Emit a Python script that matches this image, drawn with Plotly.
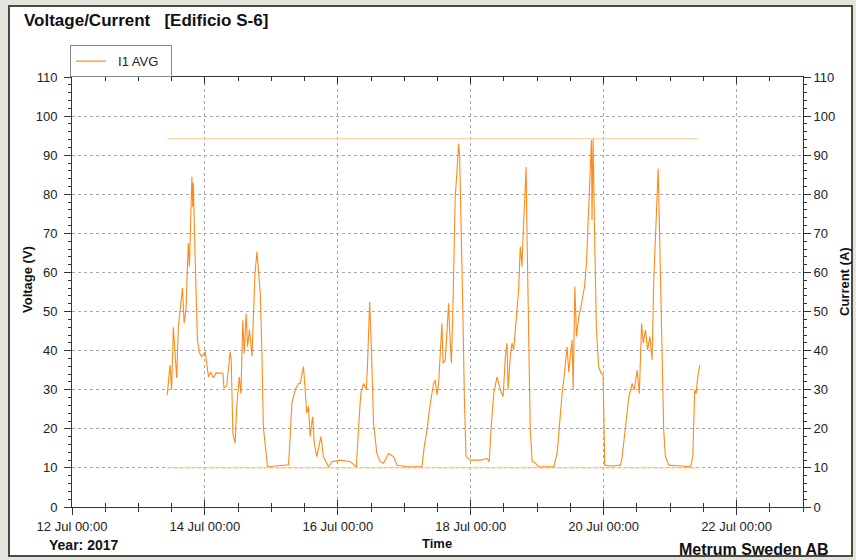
import pandas as pd
import plotly.graph_objects as go

# ---- data (hours after 12 Jul 2017 00:00, current I1 AVG in A) ----
hours = [34.4, 35.4, 36.0, 36.6, 37.8, 38.4, 39.3, 39.9, 40.5, 41.2, 41.7, 42.0, 42.4, 42.9,
         43.3, 43.6, 43.8, 44.5, 45.3, 46.0, 46.9, 48.1, 48.7, 49.3, 50.1, 51.1, 52.0, 52.9,
         54.5, 54.9, 55.9, 57.1, 57.5, 58.1, 58.9, 59.5, 60.4, 61.0, 61.7, 62.2, 62.9, 63.4,
         64.1, 65.0, 65.5, 66.1, 66.8, 67.3, 68.0, 68.6, 69.1, 70.6, 74.5, 78.2, 78.8, 79.4,
         80.6, 81.8, 82.4, 83.6, 84.2, 84.8, 85.4, 86.0, 86.9, 87.5, 88.4, 89.9, 90.8, 92.6,
         93.9, 96.9, 100.5, 102.7, 103.5, 104.3, 105.3, 106.3, 106.7, 107.5, 108.1, 108.9,
         110.1, 111.3, 112.5, 114.3, 116.1, 117.4, 121.0, 126.4, 127.2, 128.2, 129.4, 130.6,
         131.2, 131.8, 132.4, 133.0, 133.6, 134.0, 134.8, 135.4, 136.0, 136.4, 137.0, 137.5,
         137.8, 138.4, 139.0, 139.6, 140.0, 140.5, 141.1, 141.7, 142.3, 143.9, 147.5, 149.9,
         150.7, 151.3, 152.3, 153.5, 154.7, 155.7, 156.5, 157.1, 157.5, 158.3, 158.9, 159.5,
         160.5, 161.3, 161.9, 162.5, 163.1, 164.0, 164.3, 164.9, 165.5, 166.2, 167.4, 168.5,
         174.0, 175.2, 175.8, 177.0, 177.6, 178.2, 178.8, 179.4, 180.6, 181.0, 181.6, 182.2,
         183.0, 183.6, 184.2, 185.1, 185.8, 186.3, 186.8, 187.2, 187.6, 187.8, 188.2, 188.7,
         189.4, 190.2, 191.1, 191.8, 192.0, 192.4, 194.5, 198.1, 198.7, 199.9, 201.1, 202.3,
         203.1, 204.1, 204.9, 205.7, 206.3, 207.1, 207.9, 208.7, 209.5, 210.1, 210.7, 211.3,
         211.7, 212.1, 212.6, 213.1, 213.7, 214.3, 215.5, 219.8, 223.4, 224.2, 224.6, 224.9,
         225.4, 226.0, 226.7]
i1_avg = [28.6, 36.3, 30.0, 46.0, 33.0, 46.0, 52.0, 56.0, 47.0, 51.0, 61.5, 67.5, 61.5, 71.7,
          84.5, 76.8, 82.9, 63.0, 42.7, 39.4, 38.5, 39.7, 36.8, 33.3, 34.5, 33.0, 34.3, 34.2,
          34.2, 30.4, 31.0, 39.7, 37.6, 18.8, 16.3, 25.7, 33.3, 29.0, 47.8, 39.3, 49.5, 41.0,
          45.3, 38.5, 50.4, 59.8, 65.3, 60.6, 54.7, 39.3, 20.5, 10.3, 10.6, 10.8, 18.0, 26.5,
          30.0, 31.6, 31.6, 35.9, 30.0, 24.0, 25.7, 18.0, 23.1, 16.3, 12.9, 18.0, 12.9, 10.3,
          11.6, 12.0, 11.6, 10.3, 20.5, 29.0, 31.6, 30.0, 35.9, 52.5, 41.0, 21.4,
          13.7, 11.6, 11.2, 13.7, 12.9, 10.7, 10.3, 10.3, 15.4, 19.7, 26.5, 31.6,
          32.5, 28.7, 31.6, 41.0, 47.0, 36.8, 37.6, 44.4, 52.1, 45.3, 36.8, 48.7,
          60.6, 79.4, 85.4, 93.0, 89.6, 75.1, 52.1, 28.2, 12.9, 12.0, 12.0, 12.4,
          11.6, 19.7, 29.0, 33.3, 30.0, 28.2, 38.5, 41.9, 30.0, 38.5, 41.9, 40.2,
          48.7, 55.5, 66.6, 61.5, 72.6, 87.0, 70.9, 45.3, 19.7, 11.6, 11.2, 10.3,
          10.3, 13.7, 19.7, 29.0, 32.5, 36.8, 41.0, 34.5, 42.7, 30.0, 56.4, 43.6,
          48.7, 50.4, 53.0, 56.4, 62.3, 70.9, 80.2, 87.9, 93.9, 73.4, 94.2, 70.9,
          45.3, 35.9, 34.2, 33.8, 19.7, 10.7, 10.5, 10.7, 12.9, 21.4, 28.2, 31.6,
          30.0, 35.0, 29.0, 47.0, 41.9, 45.3, 40.2, 43.6, 37.6, 58.0, 68.3, 82.8,
          86.6, 73.4, 58.0, 36.8, 19.7, 12.9, 10.7, 10.5, 10.3, 12.9, 23.1, 30.0,
          29.0, 33.3, 36.3]
stat_hours = [34.4, 226.0]
max_val = 94.2
min_val = 10.0

base = pd.Timestamp("2017-07-12 00:00")
t = base + pd.to_timedelta(hours, unit="h")
ts = base + pd.to_timedelta(stat_hours, unit="h")

FONT = "Liberation Sans, Arial, sans-serif"
ORANGE = "#ff8a1a"
LIGHT = "#ffc98f"
AX = "#333333"

fig = go.Figure()
fig.add_trace(go.Scatter(x=t, y=i1_avg, mode="lines", name="\u00a0\u00a0I1 AVG\u00a0\u00a0",
                         line=dict(color=ORANGE, width=1.1)))
fig.add_trace(go.Scatter(x=ts, y=[max_val, max_val], mode="lines", showlegend=False,
                         line=dict(color=LIGHT, width=1), xaxis="x2", yaxis="y2", hoverinfo="skip"))
fig.add_trace(go.Scatter(x=ts, y=[min_val, min_val], mode="lines", showlegend=False,
                         line=dict(color=LIGHT, width=1), xaxis="x2", yaxis="y2", hoverinfo="skip"))

xr = ["2017-07-12 00:00", "2017-07-23 00:00"]
DAY = 86400000
tickfont = dict(family=FONT, size=13, color="#222")

fig.update_layout(
    width=856, height=560,
    margin=dict(l=72, r=53, t=77, b=53),
    paper_bgcolor="#e4e4dc", plot_bgcolor="white",
    font=dict(family=FONT, size=12, color="#222"),
    showlegend=True,
    legend=dict(x=-0.003, y=1.074, xanchor="left", yanchor="top", bgcolor="white",
                bordercolor="#888", borderwidth=1, font=dict(family=FONT, size=13, color="#222"),
                itemwidth=30, tracegroupgap=0),
    xaxis=dict(type="date", range=xr, tick0=xr[0], dtick=2 * DAY, tickformat="%d %b %H:%M",
               ticks="outside", ticklen=7, tickcolor=AX, showline=True, linecolor=AX,
               linewidth=1, mirror=True, showgrid=True, gridcolor="#a8a8a8", griddash="dot",
               gridwidth=1, zeroline=False, tickfont=tickfont,
               minor=dict(dtick=DAY / 2, tick0=xr[0], ticks="outside", ticklen=4,
                          tickcolor=AX, showgrid=False)),
    xaxis2=dict(type="date", range=xr, overlaying="x", anchor="y", tick0=xr[0], dtick=2 * DAY,
                ticks="inside", ticklen=7, tickcolor=AX, mirror="ticks", showline=False,
                showgrid=False, showticklabels=False, zeroline=False,
                minor=dict(dtick=DAY / 2, tick0=xr[0], ticks="inside", ticklen=4,
                           tickcolor=AX, showgrid=False)),
    yaxis=dict(range=[0, 110], dtick=10, ticks="outside", ticklen=7, tickcolor=AX,
               showline=True, linecolor=AX, linewidth=1, mirror=True, showgrid=True,
               gridcolor="#a8a8a8", griddash="dot", zeroline=False, tickfont=tickfont,
               ticklabelstandoff=4,
               minor=dict(dtick=2, ticks="outside", ticklen=3, tickcolor=AX, showgrid=False)),
    yaxis2=dict(range=[0, 110], dtick=10, overlaying="y", side="right", anchor="x",
                ticks="outside", ticklen=7, tickcolor=AX, showline=True, linecolor=AX,
                showgrid=False, zeroline=False, tickfont=tickfont,
                minor=dict(dtick=2, ticks="outside", ticklen=3, tickcolor=AX, showgrid=False)),
    yaxis3=dict(range=[0, 110], dtick=10, overlaying="y", anchor="x", ticks="inside",
                ticklen=7, tickcolor=AX, mirror="ticks", showline=False, showgrid=False,
                showticklabels=False, zeroline=False,
                minor=dict(dtick=2, ticks="inside", ticklen=3, tickcolor=AX, showgrid=False)),
)

W, L = 731.0, 72.0
H, B = 430.0, 507.0
def u(px):
    return (px - L) / W
def v(py):
    return (B - py) / H

fig.add_shape(type="rect", xref="paper", yref="paper", x0=u(9), x1=u(852), y0=v(556), y1=v(6),
              line=dict(color="#4a4a40", width=2), fillcolor="white", layer="below")

bold = dict(family=FONT, size=13, color="#111")
ann = [
    dict(text="<b>Voltage/Current\u00a0\u00a0\u00a0[Edificio S-6]</b>", x=u(22), y=v(21),
         xanchor="left", yanchor="middle", font=dict(family=FONT, size=17, color="#111")),
    dict(text="<b>Voltage (V)</b>", x=u(27), y=v(280), textangle=-90,
         xanchor="center", yanchor="middle", font=bold),
    dict(text="<b>Current (A)</b>", x=u(844), y=v(282), textangle=-90,
         xanchor="center", yanchor="middle", font=bold),
    dict(text="<b>Time</b>", x=u(437), y=v(543), xanchor="center", yanchor="middle", font=bold),
    dict(text="<b>Year: 2017</b>", x=u(47), y=v(545), xanchor="left", yanchor="middle",
         font=dict(family=FONT, size=14, color="#111")),
    dict(text="<b>Metrum Sweden AB</b>", x=u(831), y=v(549), xanchor="right", yanchor="middle",
         font=dict(family=FONT, size=16, color="#111")),
]
for a in ann:
    fig.add_annotation(xref="paper", yref="paper", showarrow=False, **a)

fig.write_html("out.html")
